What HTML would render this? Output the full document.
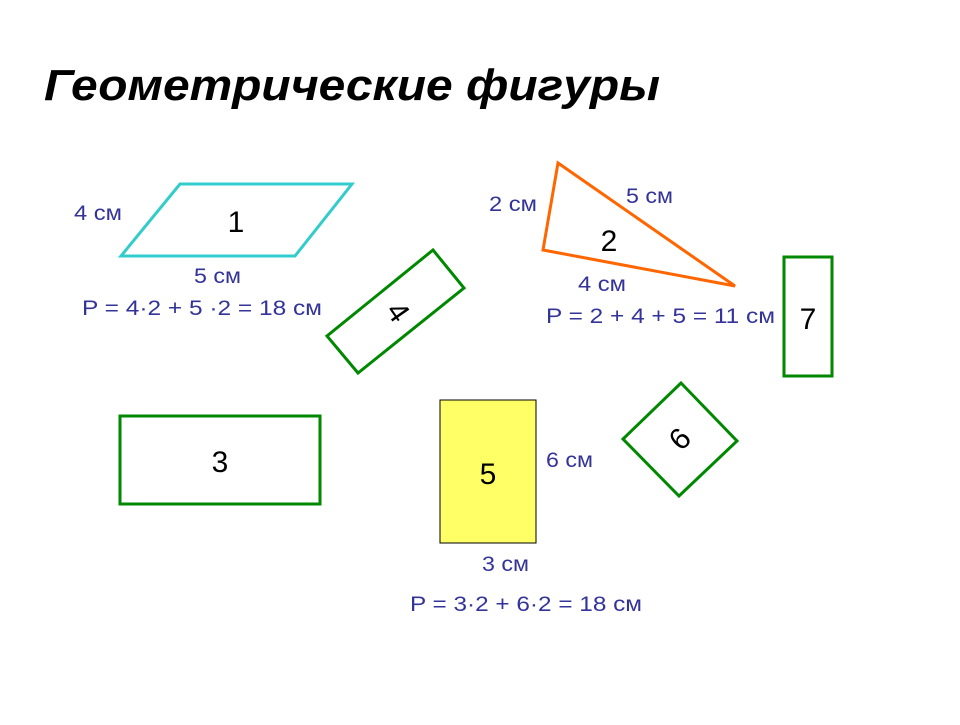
<!DOCTYPE html>
<html><head><meta charset="utf-8"><style>
body{margin:0;background:#fff;}
svg text{font-family:"Liberation Sans",sans-serif;}
</style></head><body>
<svg width="960" height="720" viewBox="0 0 960 720" xmlns="http://www.w3.org/2000/svg">
<text x="44" y="100" font-size="44" font-weight="bold" font-style="italic" fill="#000" textLength="616" lengthAdjust="spacingAndGlyphs">Геометрические фигуры</text>
<polygon points="180,184 352,184 295,256 121,256" fill="none" stroke="#33cccc" stroke-width="3"/>
<text x="236" y="232" font-size="30" text-anchor="middle">1</text>
<g fill="#333399" font-size="21">
<text x="74" y="220" textLength="48" lengthAdjust="spacingAndGlyphs">4 см</text>
<text x="194" y="283" textLength="47" lengthAdjust="spacingAndGlyphs">5 см</text>
<text x="82" y="315" textLength="240" lengthAdjust="spacingAndGlyphs">P =  4·2 + 5 ·2 = 18 см</text>
<text x="489" y="211" textLength="48" lengthAdjust="spacingAndGlyphs">2 см</text>
<text x="626" y="203" textLength="47" lengthAdjust="spacingAndGlyphs">5 см</text>
<text x="578" y="291" textLength="48" lengthAdjust="spacingAndGlyphs">4 см</text>
<text x="546" y="323" textLength="229" lengthAdjust="spacingAndGlyphs">P =  2 + 4 + 5 = 11 см</text>
<text x="546" y="467" textLength="47" lengthAdjust="spacingAndGlyphs">6 см</text>
<text x="482" y="571" textLength="47" lengthAdjust="spacingAndGlyphs">3 см</text>
<text x="410" y="611" textLength="232" lengthAdjust="spacingAndGlyphs">P =  3·2 + 6·2 = 18 см</text>
</g>
<polygon points="558,163 543,250 735,286" fill="none" stroke="#ff6600" stroke-width="3"/>
<text x="609" y="251" font-size="30" text-anchor="middle">2</text>
<polygon points="433,250 464,288 358,373 327,336" fill="none" stroke="#008800" stroke-width="3"/>
<text x="0" y="10" font-size="30" text-anchor="middle" transform="translate(398,312) rotate(55)">4</text>
<rect x="784" y="257" width="48" height="119" fill="none" stroke="#008800" stroke-width="3"/>
<text x="808" y="329" font-size="30" text-anchor="middle">7</text>
<rect x="120" y="416" width="200" height="88" fill="none" stroke="#008800" stroke-width="3"/>
<text x="220" y="472" font-size="30" text-anchor="middle">3</text>
<rect x="440" y="400" width="96" height="143" fill="#ffff66" stroke="#000" stroke-width="1"/>
<text x="488" y="484" font-size="30" text-anchor="middle">5</text>
<polygon points="681,383 737,441 679,496 623,439" fill="none" stroke="#008800" stroke-width="3"/>
<text x="0" y="10" font-size="30" text-anchor="middle" transform="translate(680,439) rotate(-45)">6</text>
</svg>
</body></html>
